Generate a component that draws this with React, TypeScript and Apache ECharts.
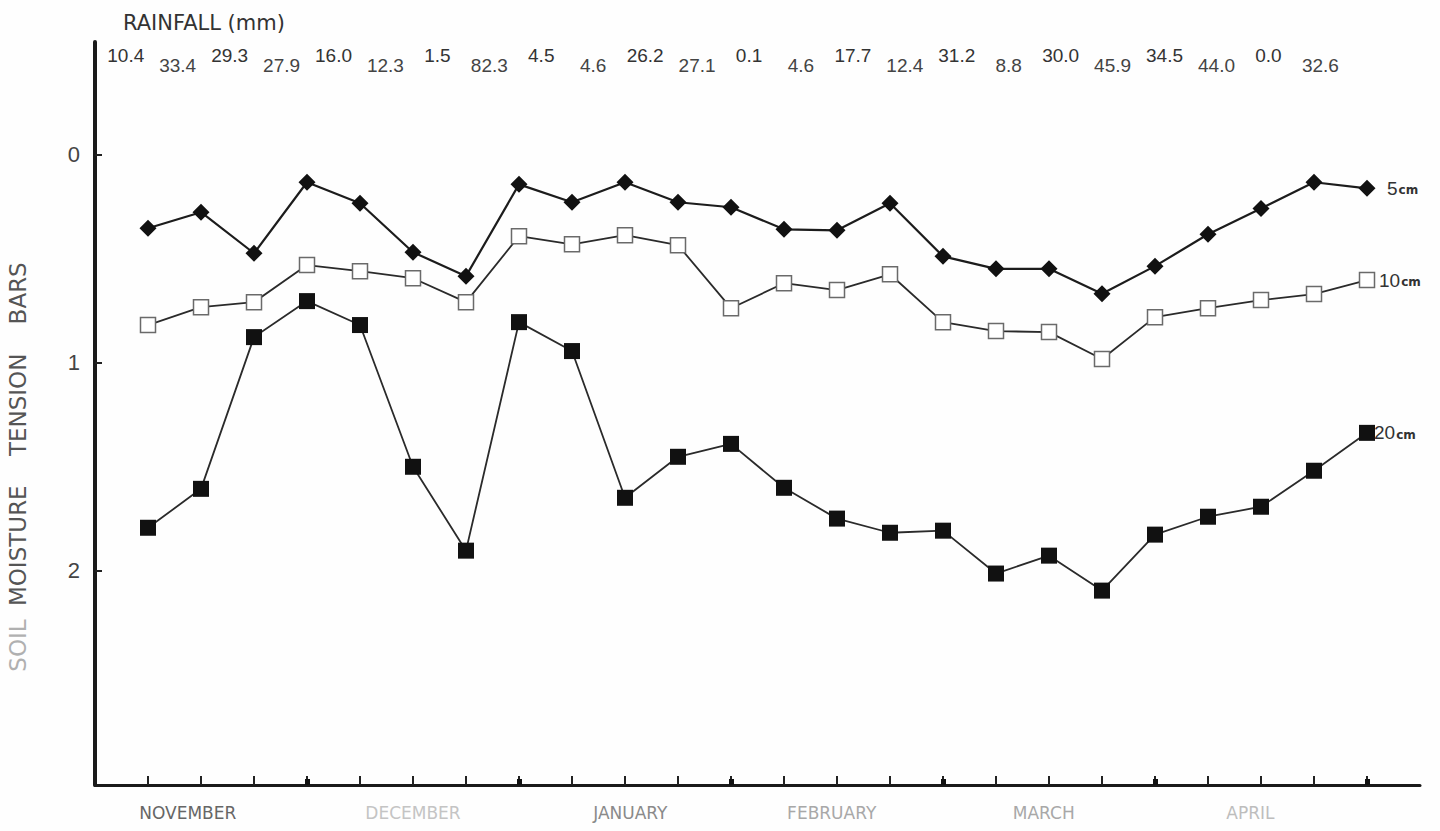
import React, { useEffect, useRef } from "react";
import * as echarts from "echarts";

// ---- data ----
const rainfall = ["10.4", "33.4", "29.3", "27.9", "16.0", "12.3", "1.5", "82.3", "4.5", "4.6", "26.2", "27.1", "0.1", "4.6", "17.7", "12.4", "31.2", "8.8", "30.0", "45.9", "34.5", "44.0", "0.0", "32.6"];
const depth5 = [0.355, 0.278, 0.475, 0.134, 0.235, 0.47, 0.585, 0.144, 0.23, 0.134, 0.23, 0.254, 0.36, 0.365, 0.235, 0.49, 0.55, 0.55, 0.67, 0.537, 0.384, 0.26, 0.134, 0.163];
const depth10 = [0.82, 0.734, 0.71, 0.532, 0.561, 0.595, 0.71, 0.393, 0.432, 0.388, 0.436, 0.739, 0.619, 0.652, 0.576, 0.806, 0.849, 0.854, 0.983, 0.782, 0.739, 0.7, 0.671, 0.604];
const depth20 = [1.794, 1.607, 0.878, 0.705, 0.82, 1.501, 1.904, 0.806, 0.945, 1.65, 1.453, 1.391, 1.602, 1.75, 1.818, 1.808, 2.014, 1.928, 2.096, 1.827, 1.741, 1.693, 1.52, 1.338];
const months = ["NOVEMBER", "DECEMBER", "JANUARY", "FEBRUARY", "MARCH", "APRIL"];
const monthPos = [0.75, 5, 9.1, 12.9, 16.9, 20.8];
const monthTone = ["m0", "m1", "m2", "m3", "m3", "m4"];
const yTicks = [0, 1, 2];
const seriesNames = ["5", "10", "20"];

const X_MIN = -1;
const X_MAX = 24;
const rainPos = (i: number) => i * 0.98 - 0.42;
const rainIdx = (v: number) => Math.round((v + 0.42) / 0.98);

export default function App() {
  const ref = useRef<HTMLDivElement>(null);

  useEffect(() => {
    if (!ref.current) return;
    const chart = echarts.init(ref.current, null, { renderer: "svg" });

    const idx = rainfall.map((_, i) => i);
    const evenPos = idx.filter((i) => i % 2 === 0).map(rainPos);
    const oddPos = idx.filter((i) => i % 2 === 1).map(rainPos);

    const rainAxis = (pos: number[], margin: number, color: string) => ({
      type: "value",
      position: "top",
      min: X_MIN,
      max: X_MAX,
      axisLine: { show: false },
      axisTick: { show: false },
      splitLine: { show: false },
      axisLabel: {
        inside: true,
        margin,
        customValues: pos,
        formatter: (v: number) => rainfall[rainIdx(v)] ?? "",
        fontFamily: "Liberation Sans",
        fontSize: 19,
        color,
        verticalAlign: "top",
      },
    });

    const endLabel = (name: string, distance: number) => ({
      show: true,
      distance,
      formatter: `{n|${name}}{u|cm}`,
      rich: {
        n: { fontFamily: "Liberation Sans", fontSize: 19, color: "#333" },
        u: { fontFamily: "DejaVu Sans", fontSize: 12, fontWeight: "bold", color: "#333", padding: [4, 0, 0, 1] },
      },
    });

    const monthStyle = (color: string) => ({ fontFamily: "DejaVu Sans", fontSize: 17, color });

    chart.setOption({
      animation: false,
      backgroundColor: "#fefefe",
      title: {
        text: "RAINFALL (mm)",
        left: 118,
        top: 7,
        textStyle: { fontFamily: "DejaVu Sans", fontSize: 21, fontWeight: "normal", color: "#333" },
      },
      grid: { left: 95, right: 20, top: 42, bottom: 46, containLabel: false },
      xAxis: [
        {
          type: "value",
          position: "bottom",
          min: X_MIN,
          max: X_MAX,
          splitLine: { show: false },
          axisLine: { onZero: false, lineStyle: { color: "#1a1a1a", width: 3 } },
          axisTick: {
            inside: true,
            length: 9,
            customValues: idx,
            lineStyle: { color: "#222", width: 2 },
          },
          axisLabel: {
            margin: 19,
            customValues: monthPos,
            formatter: (v: number) => {
              const k = monthPos.indexOf(v);
              return k >= 0 ? `{${monthTone[k]}|${months[k]}}` : "";
            },
            rich: {
              m0: monthStyle("#666"),
              m1: monthStyle("#c4c4c4"),
              m2: monthStyle("#8a8a8a"),
              m3: monthStyle("#a8a8a8"),
              m4: monthStyle("#bdbdbd"),
            },
          },
        },
        rainAxis(evenPos, 4, "#333"),
        rainAxis(oddPos, 14, "#444"),
        {
          type: "value",
          position: "bottom",
          min: X_MIN,
          max: X_MAX,
          splitLine: { show: false },
          axisLine: { show: false, onZero: false },
          axisLabel: { show: false },
          axisTick: {
            inside: true,
            length: 6,
            customValues: idx.filter((i) => i % 4 === 3),
            lineStyle: { color: "#111", width: 5 },
          },
        },
      ],
      yAxis: {
        type: "value",
        inverse: true,
        min: -0.54,
        max: 3.03,
        splitLine: { show: false },
        axisLine: { show: true, onZero: false, lineStyle: { color: "#1a1a1a", width: 4 } },
        axisTick: { show: true, inside: true, length: 7, customValues: yTicks, lineStyle: { color: "#222", width: 2 } },
        axisLabel: {
          customValues: yTicks,
          margin: 15,
          fontFamily: "Liberation Sans",
          fontSize: 22,
          color: "#444",
        },
      },
      graphic: [
        {
          type: "text",
          x: 18,
          y: 467,
          rotation: Math.PI / 2,
          style: {
            text: "{a|SOIL}    {b|MOISTURE    TENSION    BARS}",
            align: "center",
            verticalAlign: "middle",
            rich: {
              a: { fontFamily: "DejaVu Sans", fontSize: 23, fill: "#b0b0b0" },
              b: { fontFamily: "DejaVu Sans", fontSize: 23, fill: "#555" },
            },
          },
        },
      ],
      series: [
        {
          name: seriesNames[0] + "cm",
          type: "line",
          data: depth5.map((v, i) => [i, v]),
          symbol: "diamond",
          symbolSize: 17,
          itemStyle: { color: "#111" },
          lineStyle: { color: "#1c1c1c", width: 2.2 },
          endLabel: endLabel(seriesNames[0], 20),
          z: 4,
        },
        {
          name: seriesNames[1] + "cm",
          type: "line",
          data: depth10.map((v, i) => [i, v]),
          symbol: "rect",
          symbolSize: 15,
          itemStyle: { color: "#ffffff", borderColor: "#6a6a6a", borderWidth: 1.5 },
          lineStyle: { color: "#2a2a2a", width: 1.8 },
          endLabel: endLabel(seriesNames[1], 12),
          z: 3,
        },
        {
          name: seriesNames[2] + "cm",
          type: "line",
          data: depth20.map((v, i) => [i, v]),
          symbol: "rect",
          symbolSize: 16,
          itemStyle: { color: "#111" },
          lineStyle: { color: "#2a2a2a", width: 1.8 },
          endLabel: endLabel(seriesNames[2], 7),
          z: 3,
        },
      ],
    });

    return () => chart.dispose();
  }, []);

  return <div ref={ref} style={{ width: 1440, height: 831, position: "absolute", left: 0, top: 0 }} />;
}
